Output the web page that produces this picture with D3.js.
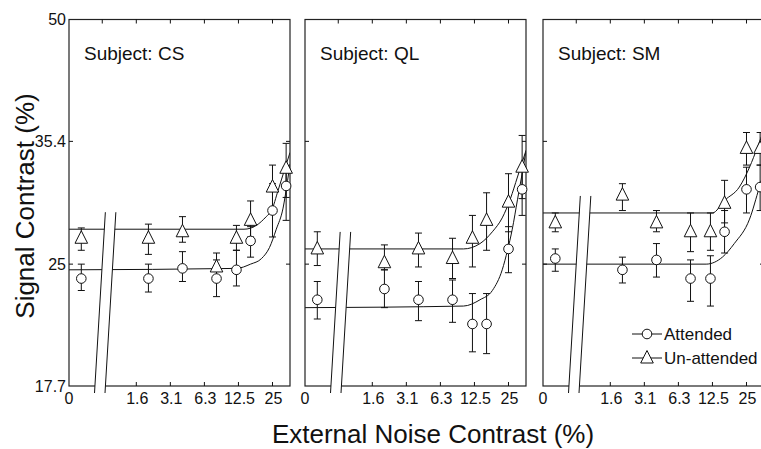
<!DOCTYPE html>
<html><head><meta charset="utf-8">
<script src="https://cdn.jsdelivr.net/npm/d3@7"></script>
<style>
body{margin:0;background:#fff}
svg{display:block}
text{font-family:"Liberation Sans",Arial,Helvetica,sans-serif;fill:#111}
</style>
</head><body>
<svg id="chart" width="761" height="449"></svg>
<script>
// ---------------- data ----------------
const subjects = ["CS", "QL", "SM"];
const noiseLevels = [0, 2, 4, 8, 12, 16, 25, 33];          // external noise contrast (%)
const xTickValues = [1.5625, 3.125, 6.25, 12.5, 25];
const xTickLabels = ["1.6", "3.1", "6.3", "12.5", "25"];
const topTickValues = [0.78125, 1.5625, 3.125, 6.25, 12.5, 25];
const yTickValues = [17.7, 25, 35.4, 50];
const yTickLabels = ["17.7", "25", "35.4", "50"];
const legendLabels = ["Attended", "Un-attended"];

// Subject CS
const csAttended     = [24.0, 24.0, 24.7, 24.0, 24.6, 26.7, 29.1, 31.2];
const csAttendedLo   = [23.2, 23.1, 23.8, 22.8, 23.5, 25.5, 27.0, 28.3];
const csAttendedHi   = [25.0, 25.0, 25.9, 25.3, 26.0, 27.8, 31.4, 32.9];
const csUnattended   = [26.9, 26.9, 27.4, 24.8, 26.9, 28.3, 31.1, 32.8];
const csUnattendedLo = [26.0, 25.7, 26.6, 24.0, 26.0, 27.0, 29.3, 30.2];
const csUnattendedHi = [27.7, 28.0, 28.6, 25.8, 27.9, 29.9, 33.1, 35.2];
const csFitAttNoise  = [0.397, 12, 16, 20, 23.5, 27, 31, 34, 35.7];
const csFitAttValue  = [24.6, 24.7, 25.0, 25.4, 26.2, 27.6, 29.3, 31.7, 33.2];
const csFitUnNoise   = [0.397, 14, 18, 22, 24.5, 28, 32, 35.7];
const csFitUnValue   = [27.6, 27.6, 27.9, 28.6, 29.1, 30.8, 32.7, 34.3];

// Subject QL
const qlAttended     = [22.6, 23.3, 22.6, 22.6, 21.1, 21.1, 26.1, 30.9];
const qlAttendedLo   = [21.4, 22.1, 21.3, 21.2, 19.5, 19.4, 24.4, 28.7];
const qlAttendedHi   = [23.8, 24.6, 23.8, 23.9, 23.0, 23.0, 27.8, 32.9];
const qlUnattended   = [26.1, 25.1, 26.1, 25.4, 26.9, 28.3, 29.8, 32.9];
const qlUnattendedLo = [24.9, 24.6, 24.8, 24.0, 24.8, 26.0, 27.4, 30.1];
const qlUnattendedHi = [27.4, 26.4, 27.3, 26.9, 28.7, 30.6, 32.3, 36.0];
const qlFitAttNoise  = [0.397, 10, 14, 18, 22, 24.5, 27, 30, 33, 35.7];
const qlFitAttValue  = [22.1, 22.2, 22.6, 23.2, 24.6, 26.0, 27.6, 30.0, 32.3, 34.5];
const qlFitUnNoise   = [0.397, 10, 14, 18, 22, 26, 30, 35.7];
const qlFitUnValue   = [26.1, 26.1, 26.5, 27.4, 28.5, 30.1, 32.0, 34.5];

// Subject SM
const smAttended     = [25.4, 24.6, 25.3, 24.0, 24.0, 27.4, 30.9, 31.1];
const smAttendedLo   = [24.5, 23.7, 24.1, 22.5, 22.2, 25.8, 28.9, 29.1];
const smAttendedHi   = [26.1, 25.5, 26.5, 25.3, 25.6, 29.1, 32.9, 33.1];
const smUnattended   = [28.1, 30.4, 28.1, 27.4, 27.4, 29.7, 34.7, 34.7];
const smUnattendedLo = [27.4, 29.1, 27.4, 25.9, 26.0, 28.1, 33.1, 33.1];
const smUnattendedHi = [28.9, 31.4, 29.1, 28.9, 28.9, 31.7, 36.3, 36.3];
const smFitAttNoise  = [0.397, 11, 15.3, 19.5, 26.6, 32.5, 35.7];
const smFitAttValue  = [25.0, 25.0, 25.5, 26.5, 28.4, 31.1, 32.5];
const smFitUnNoise   = [0.397, 12.5, 16, 21.6, 26.6, 31.2, 35.7];
const smFitUnValue   = [28.9, 28.9, 29.95, 31.1, 32.9, 34.8, 36.6];

// ---------------- layout ----------------
const panelLefts = [69, 305, 543];
const PW = 221, PT = 19.5, PB = 386;
const zeroPos = 0.51;   // where the "0 noise" condition is drawn on the broken axis
const INK = "#111";

const panels = [
  {name: subjects[0], att: csAttended, attLo: csAttendedLo, attHi: csAttendedHi,
   un: csUnattended, unLo: csUnattendedLo, unHi: csUnattendedHi,
   fa: [csFitAttNoise, csFitAttValue], fu: [csFitUnNoise, csFitUnValue]},
  {name: subjects[1], att: qlAttended, attLo: qlAttendedLo, attHi: qlAttendedHi,
   un: qlUnattended, unLo: qlUnattendedLo, unHi: qlUnattendedHi,
   fa: [qlFitAttNoise, qlFitAttValue], fu: [qlFitUnNoise, qlFitUnValue]},
  {name: subjects[2], att: smAttended, attLo: smAttendedLo, attHi: smAttendedHi,
   un: smUnattended, unLo: smUnattendedLo, unHi: smUnattendedHi,
   fa: [smFitAttNoise, smFitAttValue], fu: [smFitUnNoise, smFitUnValue]}
];

const x = d3.scaleLog().base(2).domain([0.397, 35.7]).range([0, PW]);
const y = d3.scaleLog().base(2).domain([17.7, 50]).range([PB, PT]);
const xPos = n => x(n === 0 ? zeroPos : n);

const svg = d3.select("#chart");
svg.append("rect").attr("width", 761).attr("height", 449).attr("fill", "#fff");

const triPath = "M0,-7.5L6.3,5L-6.3,5Z";
const line = d3.line().x(d => x(d[0])).y(d => y(d[1])).curve(d3.curveMonotoneX);

panels.forEach((p, i) => {
  const L = panelLefts[i];
  const g = svg.append("g").attr("transform", `translate(${L},0)`);
  const clipId = "clip" + i;
  g.append("clipPath").attr("id", clipId).append("rect")
    .attr("x", 0).attr("y", PT).attr("width", PW).attr("height", PB - PT);

  // fitted curves
  [p.fa, p.fu].forEach(f => {
    g.append("path").attr("d", line(d3.zip(f[0], f[1])))
      .attr("fill", "none").attr("stroke", INK).attr("stroke-width", 1)
      .attr("clip-path", `url(#${clipId})`);
  });

  // frame
  g.append("rect").attr("x", 0).attr("y", PT).attr("width", PW).attr("height", PB - PT)
    .attr("fill", "none").attr("stroke", "#222").attr("stroke-width", 1.2);

  // ticks (inward)
  topTickValues.forEach(t => {
    g.append("line").attr("x1", x(t)).attr("x2", x(t)).attr("y1", PT).attr("y2", PT + 4)
      .attr("stroke", INK);
  });
  xTickValues.forEach(t => {
    g.append("line").attr("x1", x(t)).attr("x2", x(t)).attr("y1", PB).attr("y2", PB - 4)
      .attr("stroke", INK);
  });
  yTickValues.slice(1, 3).forEach(t => {
    g.append("line").attr("x1", 0).attr("x2", 4).attr("y1", y(t)).attr("y2", y(t)).attr("stroke", INK);
    g.append("line").attr("x1", PW).attr("x2", PW - 4).attr("y1", y(t)).attr("y2", y(t)).attr("stroke", INK);
  });

  // axis break
  const bBot = PB + 7, bTop = y(p.fu[1][0]) - 17, slope = 0.06, bx = 25.5, gap = 10.5;
  const dx = slope * (bBot - bTop);
  g.append("path")
    .attr("d", `M${bx},${bBot}L${bx + dx},${bTop}L${bx + gap + dx},${bTop}L${bx + gap},${bBot}Z`)
    .attr("fill", "#fff").attr("stroke", "none");
  [0, gap].forEach(o => {
    g.append("line").attr("x1", bx + o).attr("y1", bBot).attr("x2", bx + o + dx).attr("y2", bTop)
      .attr("stroke", INK).attr("stroke-width", 1);
  });

  // error bars
  const series = [[p.att, p.attLo, p.attHi], [p.un, p.unLo, p.unHi]];
  series.forEach(s => {
    noiseLevels.forEach((n, k) => {
      const cx = xPos(n);
      g.append("line").attr("x1", cx).attr("x2", cx).attr("y1", y(s[1][k])).attr("y2", y(s[2][k]))
        .attr("stroke", INK);
      [s[1][k], s[2][k]].forEach(v => {
        g.append("line").attr("x1", cx - 3.5).attr("x2", cx + 3.5).attr("y1", y(v)).attr("y2", y(v))
          .attr("stroke", INK);
      });
    });
  });

  // symbols
  noiseLevels.forEach((n, k) => {
    g.append("path").attr("d", triPath)
      .attr("transform", `translate(${xPos(n)},${y(p.un[k])})`)
      .attr("fill", "#fff").attr("stroke", INK).attr("stroke-width", 1);
  });
  noiseLevels.forEach((n, k) => {
    g.append("circle").attr("cx", xPos(n)).attr("cy", y(p.att[k])).attr("r", 4.8)
      .attr("fill", "#fff").attr("stroke", INK).attr("stroke-width", 1);
  });

  // subject label
  g.append("text").attr("x", 15).attr("y", 60).attr("font-size", 19).text("Subject: " + p.name);

  // x tick labels
  g.append("text").attr("x", 0).attr("y", 404).attr("text-anchor", "middle").attr("font-size", 16).text("0");
  xTickValues.forEach((t, k) => {
    g.append("text").attr("x", x(t) + 1).attr("y", 404).attr("text-anchor", "middle")
      .attr("font-size", 16).text(xTickLabels[k]);
  });

  // y tick labels (first panel only)
  if (i === 0) {
    yTickValues.forEach((t, k) => {
      g.append("text").attr("x", -3).attr("y", y(t)).attr("dy", "0.36em")
        .attr("text-anchor", "end").attr("font-size", 16).text(yTickLabels[k]);
    });
  }

  // legend (last panel)
  if (i === 2) {
    const ly = [334, 358];
    ly.forEach((yy, k) => {
      g.append("line").attr("x1", 89).attr("x2", 119).attr("y1", yy).attr("y2", yy).attr("stroke", INK);
      if (k === 0) {
        g.append("circle").attr("cx", 104).attr("cy", yy).attr("r", 4.8)
          .attr("fill", "#fff").attr("stroke", INK);
      } else {
        g.append("path").attr("d", triPath).attr("transform", `translate(104,${yy})`)
          .attr("fill", "#fff").attr("stroke", INK);
      }
      g.append("text").attr("x", 121).attr("y", yy).attr("dy", "0.36em").attr("font-size", 17)
        .text(legendLabels[k]);
    });
  }
});

// axis titles
svg.append("text").attr("x", 433).attr("y", 443).attr("text-anchor", "middle")
  .attr("font-size", 26).text("External Noise Contrast (%)");
svg.append("text").attr("transform", "translate(34,206) rotate(-90)").attr("text-anchor", "middle")
  .attr("font-size", 26).text("Signal Contrast (%)");
</script>
</body></html>
